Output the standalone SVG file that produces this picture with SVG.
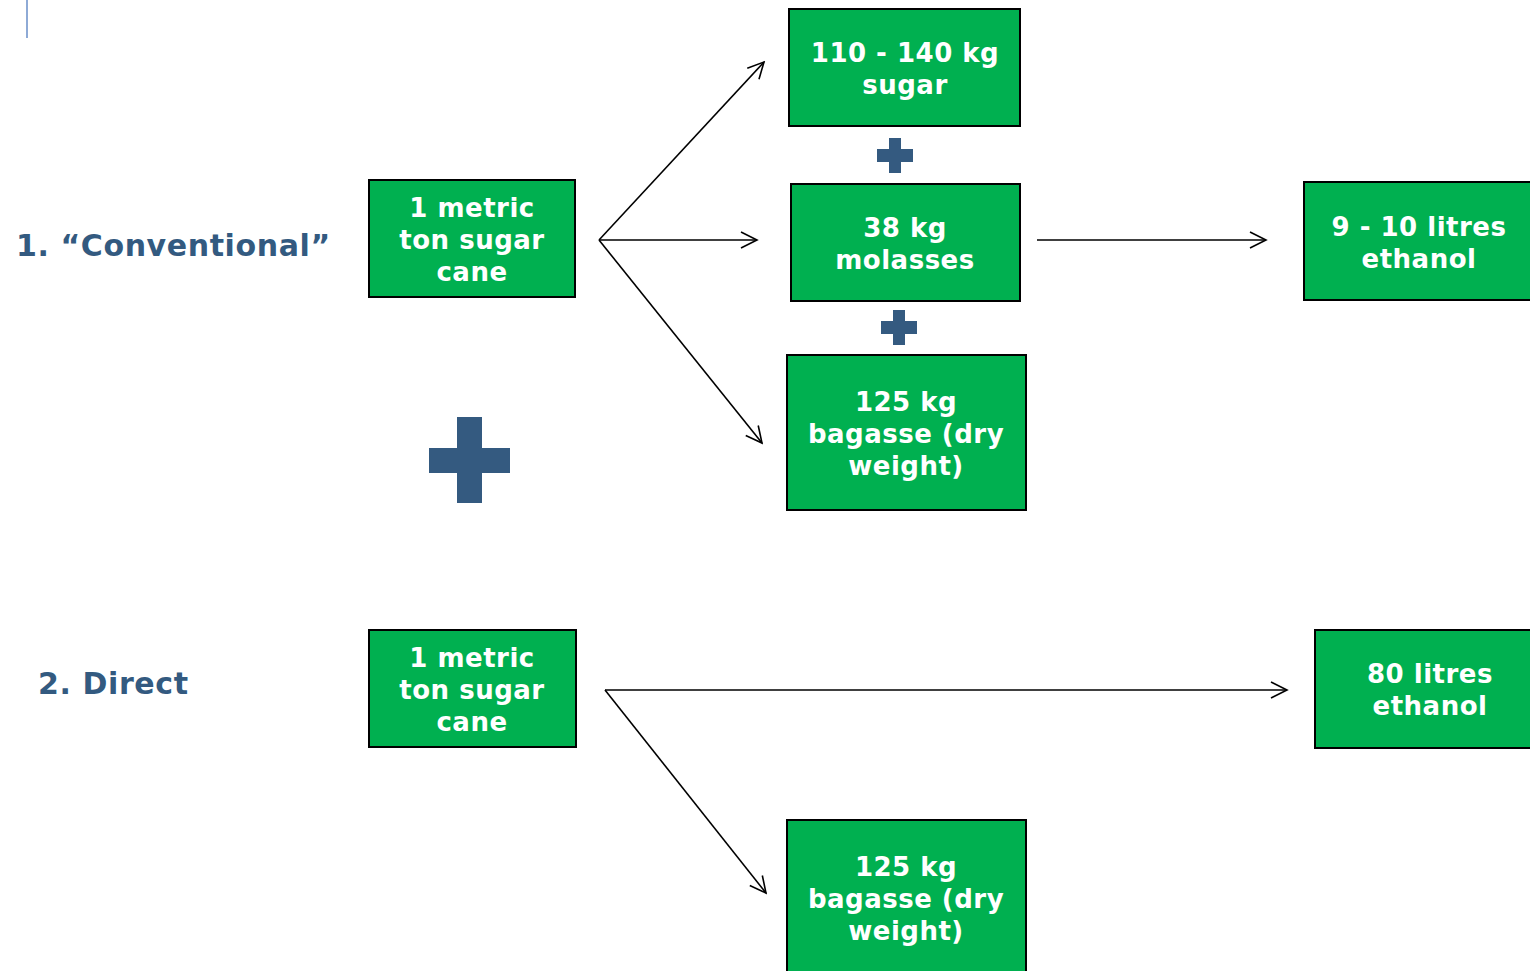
<svg xmlns="http://www.w3.org/2000/svg" width="1530" height="971" viewBox="0 0 1530 971">
<defs>
<style>
.box{fill:#00b050;stroke:#000;stroke-width:2}
.bt{font-family:"DejaVu Sans","Verdana",sans-serif;font-weight:bold;font-size:26px;fill:#fff;text-anchor:middle;letter-spacing:0.5px}
.lbl{font-family:"DejaVu Sans","Verdana",sans-serif;font-weight:bold;font-size:30px;fill:#335a80;letter-spacing:0.6px}
.plus{fill:#345a80}
.conn line{stroke:#000;stroke-width:1.6;fill:none}
</style>
<marker id="ah" viewBox="0 0 20 20" refX="18" refY="10" markerWidth="20" markerHeight="20" markerUnits="userSpaceOnUse" orient="auto">
<path d="M2,2 L18,10 L2,18" fill="none" stroke="#000" stroke-width="1.6"/>
</marker>
</defs>
<rect width="1530" height="971" fill="#fff"/>
<line x1="27" y1="0" x2="27" y2="38" stroke="#8eaad6" stroke-width="2"/>
<g id="label1"><text class="lbl" x="16" y="256">1. “Conventional”</text></g>
<g id="label2"><text class="lbl" x="38" y="694">2. Direct</text></g>
<g class="conn" id="connectors">
<line x1="599" y1="240" x2="764" y2="62" marker-end="url(#ah)"/>
<line x1="599" y1="240" x2="757" y2="240" marker-end="url(#ah)"/>
<line x1="599" y1="240" x2="762" y2="443" marker-end="url(#ah)"/>
<line x1="1037" y1="240" x2="1266" y2="240" marker-end="url(#ah)"/>
<line x1="605" y1="690" x2="1287" y2="690" marker-end="url(#ah)"/>
<line x1="605" y1="690" x2="766" y2="893" marker-end="url(#ah)"/>
</g>
<g id="cane1"><rect class="box" x="369" y="180" width="206" height="117"/>
<text class="bt"><tspan x="472" y="217">1 metric</tspan><tspan x="472" y="249">ton sugar</tspan><tspan x="472" y="281">cane</tspan></text></g>
<g id="sugar"><rect class="box" x="789" y="9" width="231" height="117"/>
<text class="bt"><tspan x="905" y="62">110 - 140 kg</tspan><tspan x="905" y="94">sugar</tspan></text></g>
<g id="plus1"><rect class="plus" x="889" y="138" width="12" height="35"/><rect class="plus" x="877" y="149" width="36" height="13"/></g>
<g id="molasses"><rect class="box" x="791" y="184" width="229" height="117"/>
<text class="bt"><tspan x="905" y="237">38 kg</tspan><tspan x="905" y="269">molasses</tspan></text></g>
<g id="plus2"><rect class="plus" x="893" y="310" width="12" height="35"/><rect class="plus" x="881" y="321" width="36" height="13"/></g>
<g id="bagasse1"><rect class="box" x="787" y="355" width="239" height="155"/>
<text class="bt"><tspan x="906" y="411">125 kg</tspan><tspan x="906" y="443">bagasse (dry</tspan><tspan x="906" y="475">weight)</tspan></text></g>
<g id="ethanol1"><rect class="box" x="1304" y="182" width="232" height="118"/>
<text class="bt"><tspan x="1419" y="236">9 - 10 litres</tspan><tspan x="1419" y="268">ethanol</tspan></text></g>
<g id="bigplus"><rect class="plus" x="457" y="417" width="25" height="86"/><rect class="plus" x="429" y="448" width="81" height="25"/></g>
<g id="cane2"><rect class="box" x="369" y="630" width="207" height="117"/>
<text class="bt"><tspan x="472" y="667">1 metric</tspan><tspan x="472" y="699">ton sugar</tspan><tspan x="472" y="731">cane</tspan></text></g>
<g id="ethanol2"><rect class="box" x="1315" y="630" width="232" height="118"/>
<text class="bt"><tspan x="1430" y="683">80 litres</tspan><tspan x="1430" y="715">ethanol</tspan></text></g>
<g id="bagasse2"><rect class="box" x="787" y="820" width="239" height="160"/>
<text class="bt"><tspan x="906" y="876">125 kg</tspan><tspan x="906" y="908">bagasse (dry</tspan><tspan x="906" y="940">weight)</tspan></text></g>
</svg>
